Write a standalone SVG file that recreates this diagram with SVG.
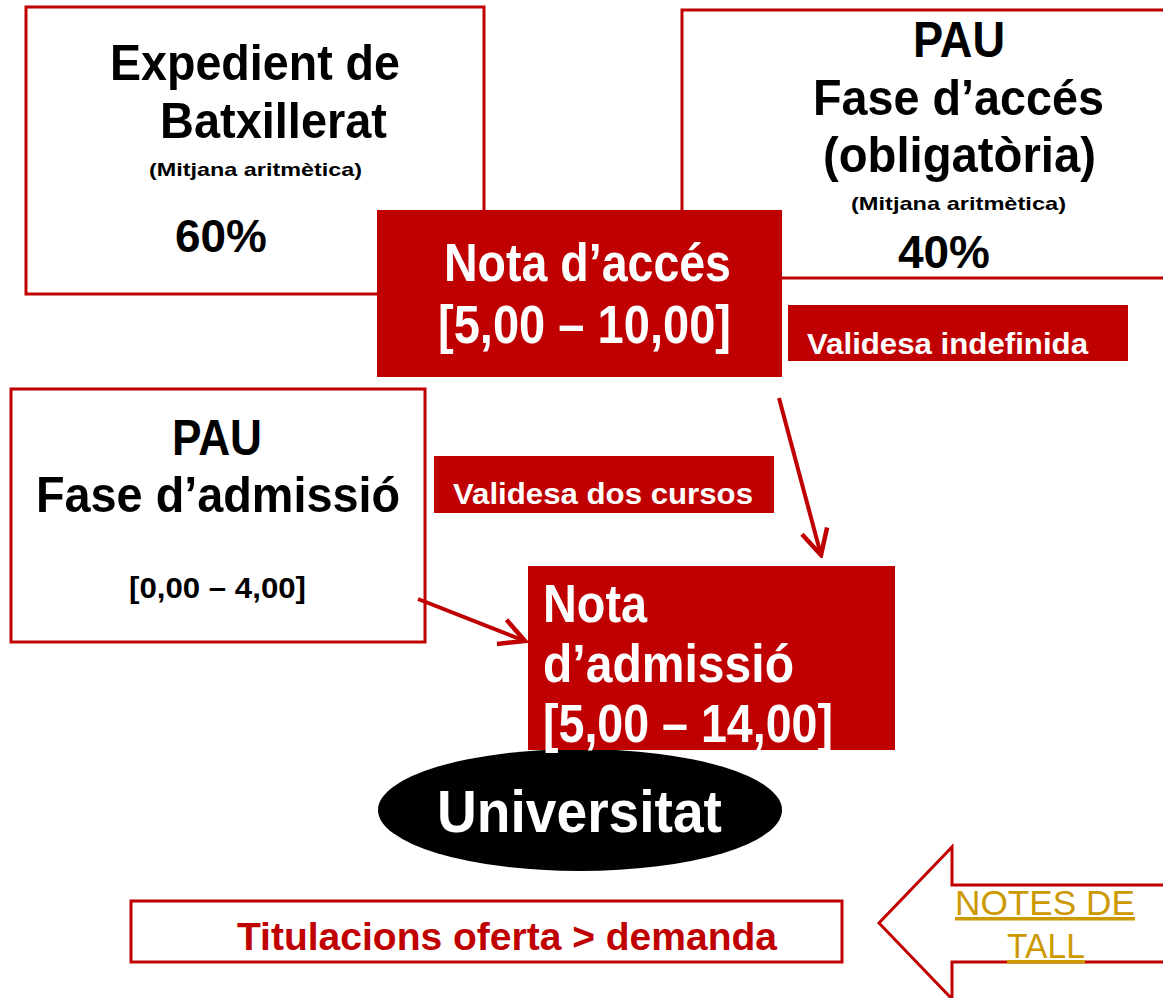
<svg xmlns="http://www.w3.org/2000/svg" width="1163" height="998" viewBox="0 0 1163 998">
<style>
  .box { fill: #ffffff; stroke: #C00000; stroke-width: 3; }
  .fill { fill: #C00000; }
  .t { font-family: "Liberation Sans", Arial, sans-serif; font-weight: bold; }
  .blk { fill: #000000; }
  .wht { fill: #ffffff; }
  .red { fill: #C00000; }
  .link { font-family: "Liberation Sans", Arial, sans-serif; fill: #CC9900; text-decoration: underline; }
  .conn { stroke: #C00000; stroke-width: 4; fill: none; }
</style>
<defs>
  <marker id="ah" markerUnits="userSpaceOnUse" markerWidth="34" markerHeight="34" viewBox="0 0 34 34" refX="31" refY="17" orient="auto">
    <path d="M6,4 L31,17 L6,30" fill="none" stroke="#C00000" stroke-width="4.5" stroke-linejoin="miter"/>
  </marker>
</defs>
<rect width="1163" height="998" fill="#ffffff"/>

<g id="expedient">
  <rect class="box" x="26" y="7" width="458" height="287"/>
  <text class="t blk" x="110" y="80" font-size="50" textLength="290" lengthAdjust="spacingAndGlyphs">Expedient de</text>
  <text class="t blk" x="160" y="138" font-size="50" textLength="227" lengthAdjust="spacingAndGlyphs">Batxillerat</text>
  <text class="t blk" x="149" y="176" font-size="19" textLength="213" lengthAdjust="spacingAndGlyphs">(Mitjana aritmètica)</text>
  <text class="t blk" x="175" y="252" font-size="47" textLength="92" lengthAdjust="spacingAndGlyphs">60%</text>
</g>

<g id="pau-acces">
  <rect class="box" x="682" y="10" width="490" height="268"/>
  <text class="t blk" x="913" y="57" font-size="50" textLength="92" lengthAdjust="spacingAndGlyphs">PAU</text>
  <text class="t blk" x="813" y="115" font-size="50" textLength="291" lengthAdjust="spacingAndGlyphs">Fase d’accés</text>
  <text class="t blk" x="823" y="172" font-size="50" textLength="273" lengthAdjust="spacingAndGlyphs">(obligatòria)</text>
  <text class="t blk" x="851" y="210" font-size="19" textLength="215" lengthAdjust="spacingAndGlyphs">(Mitjana aritmètica)</text>
  <text class="t blk" x="898" y="268" font-size="47" textLength="92" lengthAdjust="spacingAndGlyphs">40%</text>
</g>

<g id="nota-acces">
  <rect class="fill" x="377" y="210" width="405" height="167"/>
  <text class="t wht" x="444" y="281" font-size="53" textLength="287" lengthAdjust="spacingAndGlyphs">Nota d’accés</text>
  <text class="t wht" x="438" y="343" font-size="53" textLength="293" lengthAdjust="spacingAndGlyphs">[5,00 – 10,00]</text>
</g>

<g id="validesa-indefinida">
  <rect class="fill" x="788" y="305" width="340" height="56"/>
  <text class="t wht" x="807" y="354" font-size="30" textLength="281" lengthAdjust="spacingAndGlyphs">Validesa indefinida</text>
</g>

<g id="pau-admissio">
  <rect class="box" x="11" y="389" width="414" height="253"/>
  <text class="t blk" x="172" y="455" font-size="50" textLength="90" lengthAdjust="spacingAndGlyphs">PAU</text>
  <text class="t blk" x="36" y="512" font-size="50" textLength="364" lengthAdjust="spacingAndGlyphs">Fase d’admissió</text>
  <text class="t blk" x="129" y="598" font-size="29" textLength="177" lengthAdjust="spacingAndGlyphs">[0,00 – 4,00]</text>
</g>

<g id="validesa-dos-cursos">
  <rect class="fill" x="434" y="456" width="340" height="57"/>
  <text class="t wht" x="453" y="504" font-size="30" textLength="300" lengthAdjust="spacingAndGlyphs">Validesa dos cursos</text>
</g>

<g id="universitat">
  <ellipse cx="580" cy="810" rx="202" ry="61" fill="#000000"/>
  <text class="t wht" x="437" y="832" font-size="59" textLength="285" lengthAdjust="spacingAndGlyphs">Universitat</text>
</g>

<g id="nota-admissio">
  <rect class="fill" x="528" y="566" width="367" height="184"/>
  <text class="t wht" x="543" y="622" font-size="53" textLength="104" lengthAdjust="spacingAndGlyphs">Nota</text>
  <text class="t wht" x="543" y="682" font-size="53" textLength="251" lengthAdjust="spacingAndGlyphs">d’admissió</text>
  <text class="t wht" x="543" y="742" font-size="53" textLength="290" lengthAdjust="spacingAndGlyphs">[5,00 – 14,00]</text>
</g>

<g id="titulacions">
  <rect class="box" x="131" y="901" width="711" height="61"/>
  <text class="t red" x="237" y="950" font-size="39" textLength="540" lengthAdjust="spacingAndGlyphs">Titulacions oferta &gt; demanda</text>
</g>

<g id="notes-de-tall">
  <polygon points="1170,885 952,885 952,847 879,923 952,999 952,962 1170,962" fill="#ffffff" stroke="#C00000" stroke-width="3"/>
  <text class="link" x="955" y="915" font-size="35" textLength="180" lengthAdjust="spacingAndGlyphs">NOTES DE</text>
  <text class="link" x="1007" y="958" font-size="35" textLength="78" lengthAdjust="spacingAndGlyphs">TALL</text>
</g>

<g id="connectors">
  <line class="conn" x1="779" y1="398" x2="821" y2="555" marker-end="url(#ah)"/>
  <line class="conn" x1="418" y1="599" x2="525" y2="641" marker-end="url(#ah)"/>
</g>
</svg>
